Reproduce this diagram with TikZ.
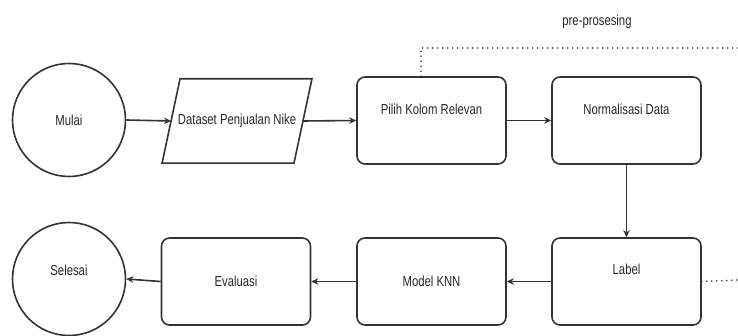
\documentclass[tikz,border=0pt]{standalone}
\usepackage{fontspec}
\setmainfont{Liberation Sans}[FakeStretch=0.78]
\usetikzlibrary{arrows.meta}
\begin{document}
\begin{tikzpicture}[x=1pt,y=-1pt,
  every node/.style={font=\fontsize{14.5}{16}\selectfont, text=black!85},
  ln/.style={draw=black!80, line width=1.6pt},
  arr/.style={ln, -{Stealth[length=7pt,width=6.5pt]}},
  dots/.style={draw=black!80, line width=1.8pt, line cap=round, dash pattern=on 0pt off 5pt},
  startend/.style={ln, circle, minimum size=113pt, inner sep=0pt},
  procbox/.style={ln, rectangle, rounded corners=8pt, minimum width=149pt, minimum height=87pt, inner sep=0pt},
  iobox/.style={rectangle, minimum width=131.5pt, minimum height=84pt, inner sep=0pt},
  raise/.style={text height=10pt, text depth=#1}
]
\useasboundingbox (0,0) rectangle (738,336);
\node[startend] (mulai) at (69,120) {Mulai};
\node[iobox] (data) at (237,121) {Dataset Penjualan Nike};
\draw[ln] ([xshift=-9pt]data.south west) -- ([xshift=9pt]data.north west)
  -- ([xshift=9pt]data.north east) -- ([xshift=-9pt]data.south east) -- cycle;
\node[procbox, raise=21pt] (pilih) at (431.5,120.5) {Pilih Kolom Relevan};
\node[procbox, raise=21pt] (norm) at (626.5,120.5) {Normalisasi Data};
\node[procbox, raise=23pt] (label) at (626.5,281.5) {Label};
\node[procbox] (knn) at (431.5,281.5) {Model KNN};
\node[procbox] (eval) at (236,281.5) {Evaluasi};
\node[startend, raise=17pt] (selesai) at (69,279) {Selesai};
\node (pre) at (597,22) {pre-prosesing};
\coordinate (dtop) at (421,48);
\coordinate (dend) at (738,48);
\coordinate (lend) at (738,280);

\draw[arr] (mulai.east) -- (data.west);
\draw[arr] (data.east) -- (pilih.west);
\draw[arr] (pilih) -- (norm);
\draw[arr] (norm) -- (label);
\draw[arr] (label) -- (knn);
\draw[arr] (knn) -- (eval);
\draw[arr] (eval.west) -- (selesai.east);
\draw[dots] (pilih.north -| dtop) -- (dtop) -- (dend);
\draw[dots] (label.east) -- (lend);
\end{tikzpicture}
\end{document}
